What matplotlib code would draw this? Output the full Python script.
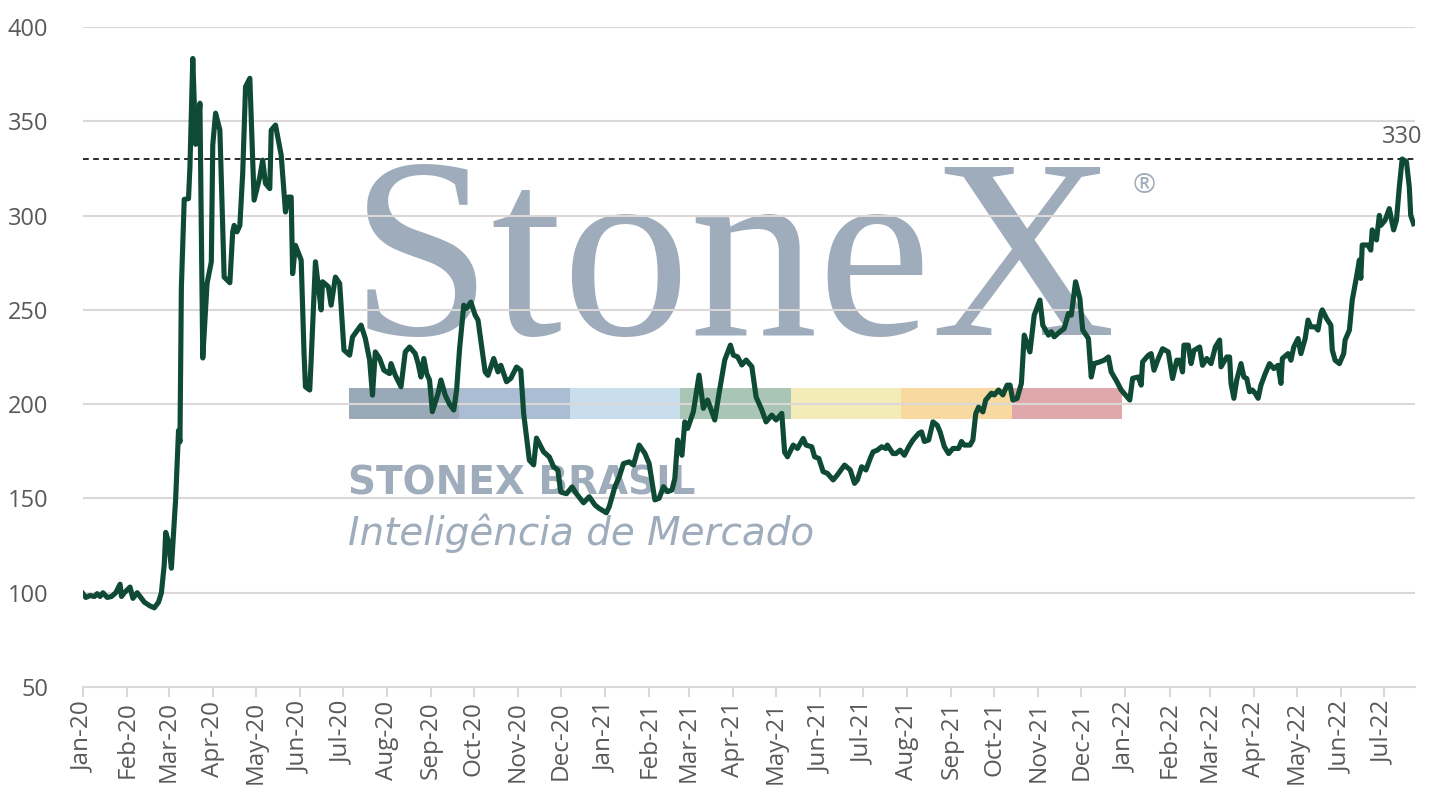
import numpy as np
import pandas as pd
import matplotlib
matplotlib.use('Agg')
import matplotlib.pyplot as plt
import matplotlib.dates as mdates
from matplotlib.patches import Rectangle

plt.rcParams['font.family'] = ['Open Sans', 'DejaVu Sans']

# ---- data ----
dates_2020 = [
    "2020-01-01", "2020-01-03", "2020-01-06", "2020-01-09", "2020-01-11", "2020-01-13", "2020-01-15",
    "2020-01-18", "2020-01-21", "2020-01-24", "2020-01-27", "2020-01-28", "2020-01-30",
    "2020-02-03", "2020-02-05", "2020-02-08", "2020-02-10", "2020-02-13", "2020-02-17", "2020-02-20",
    "2020-02-23", "2020-02-25", "2020-02-27", "2020-02-28",
    "2020-03-01", "2020-03-03", "2020-03-06", "2020-03-08", "2020-03-09", "2020-03-10", "2020-03-12",
    "2020-03-15", "2020-03-16", "2020-03-18", "2020-03-20", "2020-03-21", "2020-03-23", "2020-03-25",
    "2020-03-28", "2020-03-31",
    "2020-04-01", "2020-04-03", "2020-04-06", "2020-04-09", "2020-04-13", "2020-04-15", "2020-04-16",
    "2020-04-18", "2020-04-20", "2020-04-22", "2020-04-24", "2020-04-27", "2020-04-30",
    "2020-05-04", "2020-05-06", "2020-05-08", "2020-05-11", "2020-05-12", "2020-05-15", "2020-05-19",
    "2020-05-22", "2020-05-24", "2020-05-26", "2020-05-27", "2020-05-29",
    "2020-06-02", "2020-06-04", "2020-06-05", "2020-06-08", "2020-06-09", "2020-06-12", "2020-06-16",
    "2020-06-17", "2020-06-21", "2020-06-23", "2020-06-26", "2020-06-29",
    "2020-07-02", "2020-07-06", "2020-07-08", "2020-07-14", "2020-07-17", "2020-07-20", "2020-07-22",
    "2020-07-24", "2020-07-27", "2020-07-30",
    "2020-08-03", "2020-08-04", "2020-08-07", "2020-08-11", "2020-08-14", "2020-08-17", "2020-08-21",
    "2020-08-23", "2020-08-25", "2020-08-27", "2020-08-29", "2020-08-31",
    "2020-09-02", "2020-09-06", "2020-09-08", "2020-09-11", "2020-09-14", "2020-09-17", "2020-09-19",
    "2020-09-21", "2020-09-24", "2020-09-26", "2020-09-29",
    "2020-10-02", "2020-10-04", "2020-10-09", "2020-10-11", "2020-10-15", "2020-10-18", "2020-10-20",
    "2020-10-24", "2020-10-27", "2020-10-31",
    "2020-11-03", "2020-11-05", "2020-11-09", "2020-11-12", "2020-11-14", "2020-11-19", "2020-11-23",
    "2020-11-26", "2020-11-29",
    "2020-12-01", "2020-12-05", "2020-12-09", "2020-12-12", "2020-12-17", "2020-12-21", "2020-12-25",
    "2020-12-28",
]
values_2020 = [
    99.5, 97.5, 98.5, 98, 99.5, 98, 100, 97.5, 98, 100, 104.5, 98, 100,
    103, 97, 100, 98, 95, 93, 92, 95, 100, 115, 132,
    127, 113, 150, 186, 180, 262, 308.6, 309, 325.8, 383.3, 337.8, 339.6, 359.6, 224.5, 264, 275.5,
    337.4, 354.3, 345.3, 267.4, 264.4, 291.4, 294.8, 291.4, 294.8, 322.3, 368.3, 372.8, 308.2,
    320.5, 329.4, 317, 314.3, 345.3, 348, 332, 301.9, 309.8, 309.8, 269.2, 284.2,
    276.4, 227, 209.2, 207.5, 223.4, 275.5, 250, 264.9, 262.3, 252.5, 267.4, 264,
    228.7, 226, 235.6, 241.9, 234.8, 223.4, 204.8, 227.7, 224.2, 218,
    216.2, 221.5, 215.3, 209.2, 227.7, 230.3, 226.8, 221.5, 214.4, 224.2, 216.2, 212.8,
    196, 205.7, 212.8, 204.8, 200, 196.9, 207.5, 228.7, 252.5, 250.8, 254.1,
    247.2, 244.6, 217.1, 215.3, 224.2, 217.1, 220.6, 211.9, 213.7, 219.7,
    217.9, 195, 170.3, 167.8, 182, 174.7, 172, 166.8, 165,
    153.4, 152.5, 156.1, 152.5, 147.7, 150.9, 146.5, 144.7,
]

dates_2021 = [
    "2021-01-02", "2021-01-04", "2021-01-08", "2021-01-11", "2021-01-14", "2021-01-18", "2021-01-21",
    "2021-01-25", "2021-01-29",
    "2021-02-01", "2021-02-05", "2021-02-08", "2021-02-11", "2021-02-14", "2021-02-17", "2021-02-19",
    "2021-02-21", "2021-02-24", "2021-02-26", "2021-02-28",
    "2021-03-04", "2021-03-08", "2021-03-11", "2021-03-14", "2021-03-19", "2021-03-22", "2021-03-26",
    "2021-03-30",
    "2021-04-01", "2021-04-04", "2021-04-07", "2021-04-10", "2021-04-14", "2021-04-17", "2021-04-21",
    "2021-04-24", "2021-04-28",
    "2021-05-01", "2021-05-05", "2021-05-07", "2021-05-09", "2021-05-13", "2021-05-16", "2021-05-20",
    "2021-05-22", "2021-05-26", "2021-05-28", "2021-05-31",
    "2021-06-03", "2021-06-06", "2021-06-10", "2021-06-13", "2021-06-18", "2021-06-22", "2021-06-25",
    "2021-06-27", "2021-06-30",
    "2021-07-03", "2021-07-06", "2021-07-08", "2021-07-11", "2021-07-14", "2021-07-17", "2021-07-18",
    "2021-07-22", "2021-07-24", "2021-07-27", "2021-07-30",
    "2021-08-02", "2021-08-05", "2021-08-09", "2021-08-11", "2021-08-13", "2021-08-16", "2021-08-19",
    "2021-08-22", "2021-08-24", "2021-08-27", "2021-08-30",
    "2021-09-02", "2021-09-06", "2021-09-08", "2021-09-10", "2021-09-14", "2021-09-16", "2021-09-18",
    "2021-09-20", "2021-09-23", "2021-09-25", "2021-09-29",
    "2021-10-01", "2021-10-04", "2021-10-07", "2021-10-10", "2021-10-12", "2021-10-14", "2021-10-17",
    "2021-10-20", "2021-10-22", "2021-10-26", "2021-10-29",
    "2021-11-02", "2021-11-04", "2021-11-08", "2021-11-10", "2021-11-12", "2021-11-16", "2021-11-19",
    "2021-11-22", "2021-11-24", "2021-11-27", "2021-11-30",
    "2021-12-02", "2021-12-06", "2021-12-08", "2021-12-10", "2021-12-14", "2021-12-17", "2021-12-20",
    "2021-12-22", "2021-12-26", "2021-12-29",
]
values_2021 = [
    142.4, 145.6, 156.2, 161.4, 168.5, 169.4, 167.7, 178.3, 173.9,
    168.5, 149.2, 150.1, 156.2, 153.6, 154.5, 160.6, 181, 172.9, 190.6, 187.1,
    196, 215.4, 197.8, 202.2, 191.6, 205.7, 223.4, 231.3,
    226, 225.1, 220.8, 223.4, 219.9, 203.8, 196.9, 190.6, 194.2,
    191.6, 195.1, 174.5, 172.1, 178.3, 176.5, 181.8, 178.3, 177.4, 172.1, 171.2,
    164.2, 163.3, 159.8, 162.5, 167.7, 165.1, 158, 159.8, 166.8,
    165.1, 171.2, 174.7, 175.6, 177.4, 176.5, 178.3, 173.8, 173.8, 175.6, 172.9,
    177.4, 181, 184.5, 185.3, 180.2, 181, 190.6, 188.8, 185.3, 177.4, 173.8,
    176.5, 176.5, 180.2, 178.3, 178.3, 181, 195, 198.4, 195.9, 202.2, 205.8,
    204.9, 207.5, 204.9, 210.1, 210.1, 202.2, 203, 211, 236.6, 227.7, 247.2,
    255.2, 241.9, 236.6, 238.4, 235.7, 238.4, 240.1, 248.1, 247.2, 264.9, 256.1,
    239.3, 234.8, 214.4, 221.5, 222.4, 223.3, 225, 217.1, 211.9, 207.5,
]

dates_2022 = [
    "2022-01-02", "2022-01-04", "2022-01-06", "2022-01-10", "2022-01-12", "2022-01-13", "2022-01-17",
    "2022-01-19", "2022-01-21", "2022-01-24", "2022-01-27", "2022-01-31",
    "2022-02-03", "2022-02-06", "2022-02-08", "2022-02-10", "2022-02-11", "2022-02-14", "2022-02-16",
    "2022-02-18", "2022-02-22", "2022-02-24", "2022-02-27",
    "2022-03-02", "2022-03-05", "2022-03-08", "2022-03-09", "2022-03-13", "2022-03-15", "2022-03-16",
    "2022-03-18", "2022-03-20", "2022-03-23", "2022-03-25", "2022-03-27", "2022-03-29", "2022-03-31",
    "2022-04-02", "2022-04-04", "2022-04-06", "2022-04-09", "2022-04-12", "2022-04-15", "2022-04-18",
    "2022-04-20", "2022-04-21", "2022-04-25", "2022-04-27", "2022-04-29",
    "2022-05-02", "2022-05-04", "2022-05-07", "2022-05-09", "2022-05-11", "2022-05-14", "2022-05-16",
    "2022-05-18", "2022-05-19", "2022-05-22", "2022-05-25", "2022-05-26", "2022-05-28", "2022-05-31",
    "2022-06-03", "2022-06-04", "2022-06-07", "2022-06-09", "2022-06-12", "2022-06-14", "2022-06-15",
    "2022-06-16", "2022-06-20", "2022-06-22", "2022-06-23", "2022-06-26", "2022-06-28", "2022-06-29",
    "2022-07-02", "2022-07-05", "2022-07-08", "2022-07-10", "2022-07-12", "2022-07-14", "2022-07-17",
    "2022-07-19", "2022-07-20", "2022-07-22",
]
values_2022 = [
    204, 202.2, 213.7, 214.4, 210.1, 222.4, 225.9, 226.8, 218, 224.2, 229.4, 227.7,
    213.6, 223.3, 223.3, 217.1, 231.3, 231.3, 221.5, 228.5, 230.3, 220.6, 224.2,
    221.5, 230.3, 234, 219.8, 225, 225, 211, 203.1, 212.8, 221.5, 214.4, 213.6, 206.6, 207.5,
    205.7, 203.1, 210.1, 216.2, 221.5, 218.9, 220.6, 211, 224.2, 226.8, 223.3, 230.3,
    234.8, 226.8, 234.8, 244.6, 241, 241, 239.3, 248.1, 250, 245.4, 241.9, 228.7, 223.3, 221.5,
    226.8, 234, 239.3, 255.2, 267.5, 276.4, 266.7, 284.4, 284.4, 281.7, 292.4, 287.1, 300.1, 294.8,
    297.5, 303.7, 292.4, 297.5, 315.2, 330, 328.6, 315.2, 300.1, 295.7,
]

ref_level = 330
y_ticks = [50, 100, 150, 200, 250, 300, 350, 400]
band_colors = ['#9aa9b8', '#abbdd3', '#c9deec', '#a8c5b6', '#f3ecb9', '#f8d9a0', '#dfa8aa']

dates = pd.to_datetime(dates_2020 + dates_2021 + dates_2022)
values = np.array(values_2020 + values_2021 + values_2022)

# ---- figure ----
fig = plt.figure(figsize=(14.38, 8.09), dpi=100, facecolor='white')
ax = fig.add_axes([0.0577, 0.1508, 0.9263, 0.8158])

# watermark (logo, sits behind the grid)
wm = '#9eacbb'
ax.text(0.2005, 0.533, 'StoneX', transform=ax.transAxes, fontsize=184,
        family=['Liberation Serif', 'DejaVu Serif'], color=wm, ha='left', va='baseline', zorder=0.2)
ax.text(0.797, 0.759, '\u00ae', transform=ax.transAxes, fontsize=20, color=wm,
        ha='center', va='center', zorder=0.2)
for i, c in enumerate(band_colors):
    ax.add_patch(Rectangle((0.1997 + i * 0.0829, 0.406), 0.0829, 0.047, transform=ax.transAxes,
                           facecolor=c, edgecolor='none', zorder=0.2))
ax.text(0.199, 0.291, 'STONEX BRASIL', transform=ax.transAxes, fontsize=28, fontweight='bold',
        family='DejaVu Sans', color=wm, ha='left', va='baseline', zorder=0.2)
ax.text(0.199, 0.215, 'Inteligência de Mercado', transform=ax.transAxes, fontsize=28,
        family='DejaVu Sans', fontstyle='italic', fontweight='light', color=wm,
        ha='left', va='baseline', zorder=0.2)

# series
ax.plot(dates, values, color='#0f4a35', lw=3.7, solid_joinstyle='round', zorder=3)

# reference level
ax.axhline(ref_level, color='#1a1a1a', ls=(0, (3.2, 2.4)), lw=1.3, zorder=2)
peak_date = dates[len(dates_2020) + len(dates_2021) + values_2022.index(max(values_2022))]
ax.annotate(str(ref_level), xy=(peak_date, ref_level), xytext=(0, 7), textcoords='offset points',
            ha='center', va='bottom', fontsize=17, color='#595959')

# axes
ax.set_ylim(50, 400)
ax.set_yticks(y_ticks)
ax.set_xlim(pd.Timestamp('2020-01-01'), pd.Timestamp('2022-07-23'))
ax.xaxis.set_major_locator(mdates.MonthLocator())
ax.xaxis.set_major_formatter(mdates.DateFormatter('%b-%y'))

for s in ['top', 'right', 'left']:
    ax.spines[s].set_visible(False)
ax.spines['bottom'].set_color('#d9d9d9')
ax.spines['bottom'].set_linewidth(1.5)

ax.tick_params(axis='x', labelrotation=90, length=7, width=1.5, color='#d9d9d9',
               labelcolor='#595959', labelsize=17.5, pad=3)
ax.tick_params(axis='y', length=0, labelcolor='#595959', labelsize=17, pad=25)
ax.yaxis.grid(True, color='#dcd8d8', lw=1.5)
ax.set_axisbelow(True)

fig.savefig('out.png', dpi=100, facecolor='white')
